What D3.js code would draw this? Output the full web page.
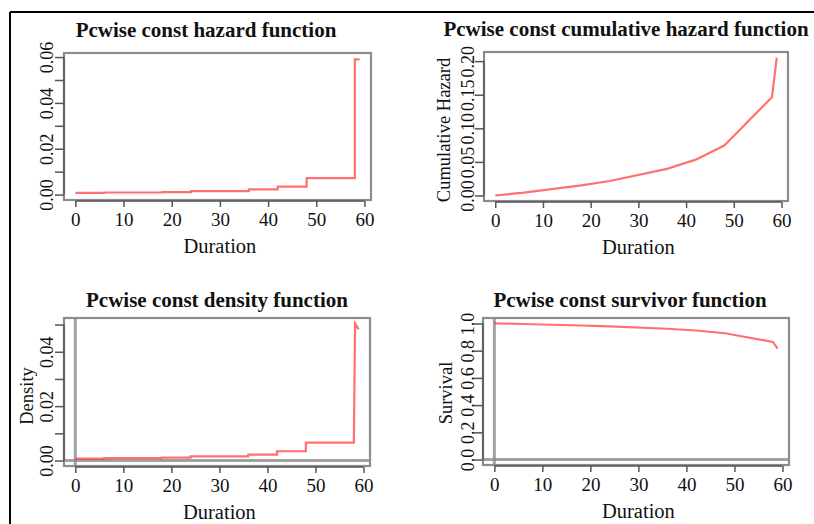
<!DOCTYPE html>
<html><head><meta charset="utf-8">
<script src="https://cdn.jsdelivr.net/npm/d3@7"></script>
<style>body{margin:0;background:#fff}svg text{font-family:"Liberation Serif","DejaVu Serif",serif;fill:#111}</style>
</head><body>
<svg id="c" width="814" height="524"></svg>
<script>
// ---- data ----
const times      = [0, 6, 18, 24, 36, 42, 48, 58, 59];
const hazard     = [0.0007, 0.0009, 0.0011, 0.0015, 0.0023, 0.0035, 0.0072, 0.0590, 0.0590];
const cumHazard  = [0, 0.0042, 0.0150, 0.0216, 0.0396, 0.0534, 0.0744, 0.1464, 0.2054];
const survival   = [1.0, 0.996, 0.985, 0.979, 0.961, 0.948, 0.928, 0.864, 0.815];
const densTimes  = [0, 6, 6, 18, 18, 24, 24, 36, 36, 42, 42, 48, 48, 58, 58.25, 59];
const density    = [0.0007, 0.0007, 0.0009, 0.0009, 0.0011, 0.0011, 0.0015, 0.0015, 0.0022, 0.0022, 0.0034, 0.0034, 0.0066, 0.0066, 0.0504, 0.0482];
const xTicks     = [0, 10, 20, 30, 40, 50, 60];
const hazTicks   = [0, 0.01, 0.02, 0.03, 0.04, 0.05, 0.06];
const hazLabels  = ["0.00", "", "0.02", "", "0.04", "", "0.06"];
const cumTicks   = [0, 0.05, 0.10, 0.15, 0.20];
const cumLabels  = ["0.00", "0.05", "0.10", "0.15", "0.20"];
const denTicks   = [0, 0.01, 0.02, 0.03, 0.04, 0.05];
const denLabels  = ["0.00", "", "0.02", "", "0.04", ""];
const survTicks  = [0, 0.2, 0.4, 0.6, 0.8, 1.0];
const survLabels = ["0.0", "0.2", "0.4", "0.6", "0.8", "1.0"];
const titles     = ["Pcwise const hazard function", "Pcwise const cumulative hazard function",
                    "Pcwise const density function", "Pcwise const survivor function"];
const xTitle     = "Duration";
const yTitles    = ["", "Cumulative Hazard", "Density", "Survival"];

const svg = d3.select("#c");

// outer frame (only top and left visible)
svg.append("line").attr("x1",10).attr("y1",12).attr("x2",814).attr("y2",12).attr("stroke","#000").attr("stroke-width",2);
svg.append("line").attr("x1",10).attr("y1",12).attr("x2",10).attr("y2",524).attr("stroke","#000").attr("stroke-width",2);

const panels = [
  {box:[64,53,371,200], tx:206, ty:37, xs:times, ys:hazard, step:true, yt:hazTicks, yl:hazLabels, ylim:[0,0.0594], ab:false, lx:53, ytx:0, yty:0},
  {box:[484,52,788,201], tx:626, ty:36, xs:times, ys:cumHazard, step:false, yt:cumTicks, yl:cumLabels, ylim:[0,0.2054], ab:false, lx:474, ytx:450, yty:130},
  {box:[64,318,370,466], tx:217, ty:307, xs:densTimes, ys:density, step:false, yt:denTicks, yl:denLabels, ylim:[0,0.0504], ab:true, lx:53, ytx:33, yty:396},
  {box:[483,318,789,465], tx:630, ty:307, xs:times, ys:survival, step:false, yt:survTicks, yl:survLabels, ylim:[0,1], ab:true, lx:474, ytx:452, yty:393}
];

panels.forEach((p,i) => {
  const [x0,y0,x1,y1] = p.box;
  const xpad = 59*0.04;
  const x = d3.scaleLinear().domain([0 - xpad, 59 + xpad]).range([x0, x1]);
  const yp = (p.ylim[1]-p.ylim[0])*0.04;
  const y = d3.scaleLinear().domain([p.ylim[0]-yp, p.ylim[1]+yp]).range([y1, y0]);
  const g = svg.append("g");

  // reference lines at 0
  if (p.ab) {
    g.append("line").attr("x1",x(0)).attr("x2",x(0)).attr("y1",y0).attr("y2",y1)
      .attr("stroke","#8a8a8a").attr("stroke-width",3).attr("stroke-opacity",0.8);
    g.append("line").attr("x1",x0).attr("x2",x1).attr("y1",y(0)).attr("y2",y(0))
      .attr("stroke","#8a8a8a").attr("stroke-width",3).attr("stroke-opacity",0.8);
  }

  // data line
  const pts = p.xs.map((t,k)=>[t,p.ys[k]]);
  const line = d3.line().x(d=>x(d[0])).y(d=>y(d[1])).curve(p.step ? d3.curveStepAfter : d3.curveLinear);
  g.append("path").attr("d", line(pts)).attr("fill","none")
    .attr("stroke","#ff1a1a").attr("stroke-opacity",0.62).attr("stroke-width",2.2);

  // box
  g.append("rect").attr("x",x0).attr("y",y0).attr("width",x1-x0).attr("height",y1-y0)
    .attr("fill","none").attr("stroke","#8c8c8c").attr("stroke-width",2.2);

  // x axis (R style: axis line only between first and last tick)
  const xa = g.append("g").attr("transform",`translate(0,${y1+1})`)
    .call(d3.axisBottom(x).tickValues(xTicks).tickSize(6).tickSizeOuter(0).tickFormat(d3.format("d")));
  xa.select(".domain").remove();
  xa.append("line").attr("x1",x(xTicks[0])).attr("x2",x(xTicks[xTicks.length-1])).attr("stroke","#555").attr("stroke-width",1.5);
  xa.selectAll(".tick line").attr("stroke","#555").attr("stroke-width",1.5);
  xa.selectAll(".tick text").attr("font-size",19).attr("dy",null).attr("y",25)
    .style("font-family","'Liberation Serif',serif").attr("fill","#111");

  // y axis
  const ya = g.append("g").attr("transform",`translate(${x0},0)`)
    .call(d3.axisLeft(y).tickValues(p.yt).tickSize(9).tickSizeOuter(0).tickFormat((d,k)=>p.yl[k]));
  ya.select(".domain").remove();
  ya.append("line").attr("y1",y(p.yt[0])).attr("y2",y(p.yt[p.yt.length-1])).attr("stroke","#555").attr("stroke-width",1.5);
  ya.selectAll(".tick line").attr("stroke","#555").attr("stroke-width",1.5);
  ya.selectAll(".tick text").attr("font-size",18).attr("x",null).attr("dy",null)
    .attr("text-anchor","middle")
    .attr("transform",`translate(${p.lx - x0},0) rotate(-90)`)
    .style("font-family","'Liberation Serif',serif").attr("fill","#111");

  // titles
  svg.append("text").attr("x",p.tx).attr("y",p.ty).attr("text-anchor","middle")
    .attr("font-size",21).attr("font-weight","bold").text(titles[i]);
  svg.append("text").attr("x",(x(0)+x(60))/2).attr("y",y1+53).attr("text-anchor","middle")
    .attr("font-size",20.5).text(xTitle);
  if (yTitles[i]) {
    svg.append("text").attr("transform",`translate(${p.ytx},${p.yty}) rotate(-90)`)
      .attr("text-anchor","middle").attr("font-size",18.5).text(yTitles[i]);
  }
});
</script>
</body></html>
